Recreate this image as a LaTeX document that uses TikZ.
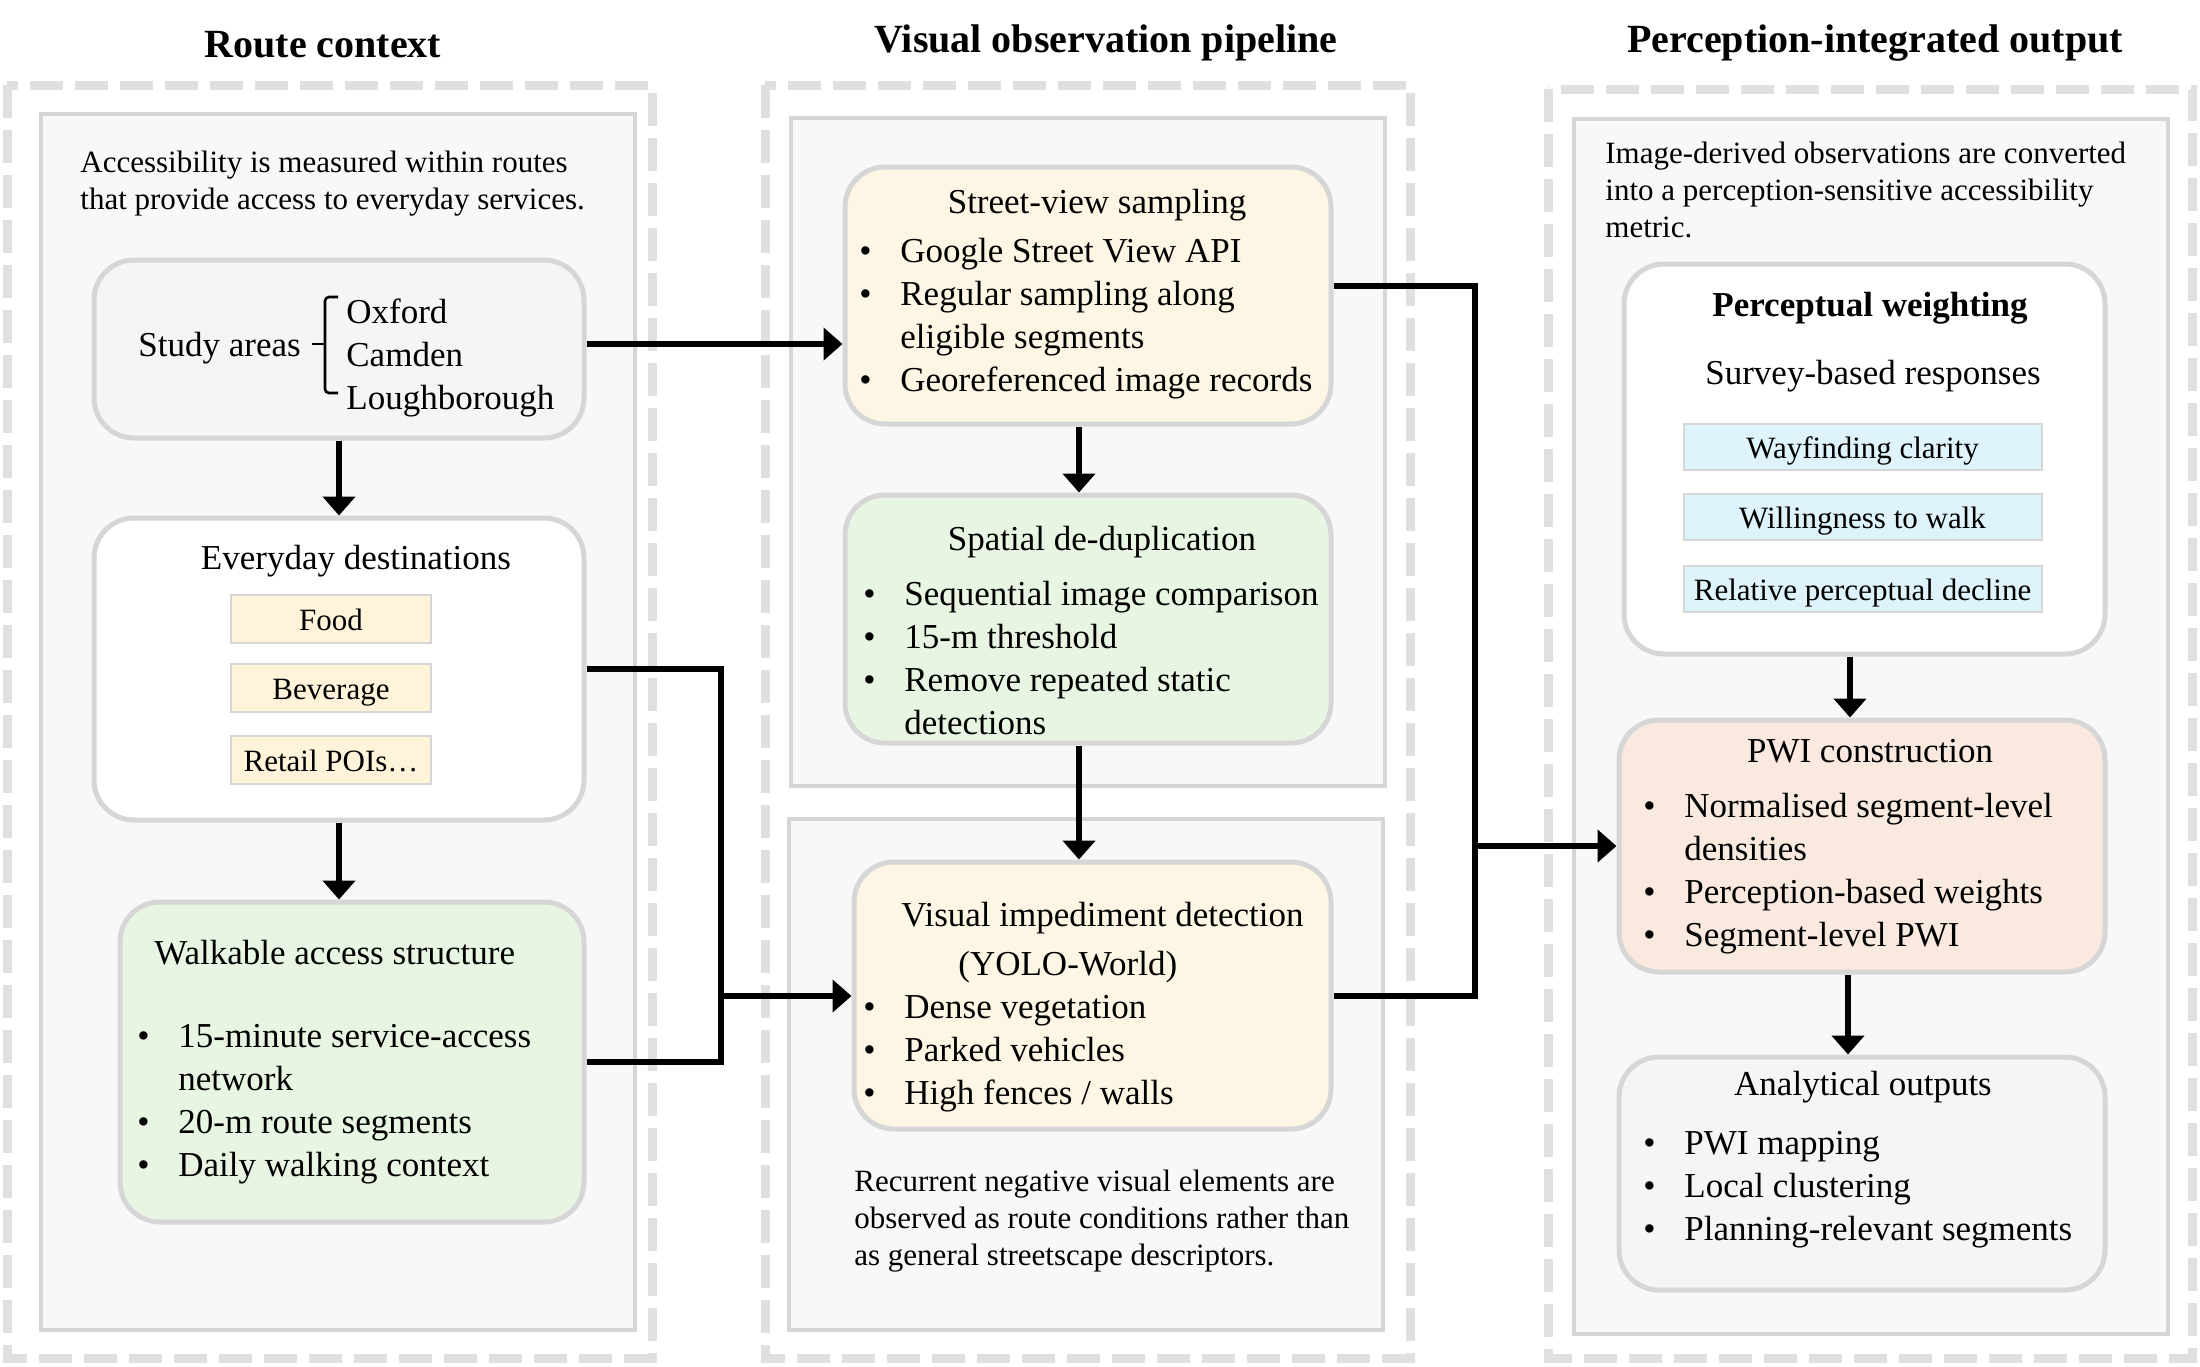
\documentclass[tikz,border=0pt]{standalone}
\usepackage{fontspec}
\setmainfont{Liberation Serif}
\usetikzlibrary{arrows.meta}
\definecolor{randgrau}{RGB}{224,224,224}
\definecolor{boxgrau}{RGB}{214,214,214}
\definecolor{hintergrund}{RGB}{248,248,248}
\definecolor{hellgrau}{RGB}{245,245,245}
\definecolor{creme}{RGB}{254,246,228}
\definecolor{gruen}{RGB}{232,245,226}
\definecolor{pfirsich}{RGB}{249,233,223}
\definecolor{hellblau}{RGB}{222,243,251}
\definecolor{poigelb}{RGB}{255,244,218}

\newcommand\gross{\fontsize{17.5pt}{21.5pt}\selectfont}
\newcommand\klein{\fontsize{15.5pt}{18.5pt}\selectfont}
\newcommand\bul{\makebox[20.5pt][l]{\textbullet}}
\newcommand\ein{\hspace*{20.5pt}}

\begin{document}
\begin{tikzpicture}[x=0.5pt,y=-0.5pt,>={Triangle[width=16pt,length=9.5pt]},
  aussen/.style={draw=randgrau, line width=4.5pt, dash pattern=on 16.5pt off 6pt},
  innen/.style={draw=boxgrau, fill=hintergrund, line width=2pt},
  kasten/.style={draw=boxgrau, line width=2.5pt, rounded corners=20pt, inner sep=0pt},
  etikett/.style={draw=boxgrau, line width=1pt, inner sep=0pt, font=\klein, text height=14pt, text depth=2.5pt},
  txt/.style={inner sep=0pt, font=\gross, text height=12.5pt, text depth=4pt, yshift=-2pt},
  liste/.style={inner sep=0pt, font=\gross, align=left, anchor=north west},
  notiz/.style={inner sep=0pt, font=\klein, align=left, anchor=north west},
  titel/.style={inner sep=0pt, font=\fontsize{20pt}{24pt}\selectfont\bfseries, text height=14pt, text depth=4.5pt, yshift=-2pt},
  pfeil/.style={->, line width=3pt},
  linie/.style={line width=3pt}]

\fill[white] (0,0) rectangle (2200,1366);
\useasboundingbox (0,0) rectangle (2200,1366);

%Rahmen
\draw[aussen] (7,85) rectangle (652,1358);
\draw[aussen] (765,85) rectangle (1410,1358);
\draw[aussen] (1548,89) rectangle (2192,1358);
\draw[innen] (41,114) rectangle (635,1330);
\draw[innen] (791,118) rectangle (1385,786);
\draw[innen] (789,819) rectangle (1383,1330);
\draw[innen] (1574,119) rectangle (2168,1334);

%Ueberschriften
\node[titel] (t1) at (323,44) {Route context};
\node[titel] (t2) at (1106,39) {Visual observation pipeline};
\node[titel] (t3) at (1875,39) {Perception-integrated output};

%Spalte links
\node[notiz] (n1) at (80,151) {Accessibility is measured within routes\\that provide access to everyday services.};

\node[kasten, fill=hellgrau, minimum width=245pt, minimum height=89pt] (st) at (339,349) {};
\node[txt, anchor=west] (sa) at (138,344) {Study areas};
\draw[line width=1.3pt, rounded corners=2pt] (338,297) -- (325,297) -- (325,393) -- (338,393);
\draw[line width=1.3pt] (325,344) -- (312,344);
\node[liste] (orte) at (346,298.5) {Oxford\\Camden\\Loughborough};

\node[kasten, fill=white, minimum width=245pt, minimum height=151pt] (ed) at (339,669) {};
\node[txt] (edT) at (356,557) {Everyday destinations};
\node[etikett, fill=poigelb, minimum width=100pt, minimum height=24pt] (food) at (331,619) {Food};
\node[etikett, fill=poigelb, minimum width=100pt, minimum height=24pt] (bev) at (331,687.5) {Beverage};
\node[etikett, fill=poigelb, minimum width=100pt, minimum height=24pt] (ret) at (331,759.5) {Retail POIs…};

\node[kasten, fill=gruen, minimum width=232pt, minimum height=160pt] (wa) at (352,1062) {};
\node[txt, anchor=west] (waT) at (154,952) {Walkable access structure};
\node[liste] (waL) at (137,1023.5) {\bul 15-minute service-access\\\ein network\\\bul 20-m route segments\\\bul Daily walking context};

%Spalte Mitte
\node[kasten, fill=creme, minimum width=243pt, minimum height=128.5pt] (sv) at (1088,295.5) {};
\node[txt] (svT) at (1097,201) {Street-view sampling};
\node[liste] (svL) at (859,237.5) {\bul Google Street View API\\\bul Regular sampling along\\\ein eligible segments\\\bul Georeferenced image records};

\node[kasten, fill=gruen, minimum width=243pt, minimum height=124pt] (dd) at (1088,619) {};
\node[txt] (ddT) at (1102,538) {Spatial de-duplication};
\node[liste] (ddL) at (863,580.5) {\bul Sequential image comparison\\\bul 15-m threshold\\\bul Remove repeated static\\\ein detections};

\node[kasten, fill=creme, minimum width=238.5pt, minimum height=133.5pt] (im) at (1092.5,995.5) {};
\node[liste, font=\fontsize{17.5pt}{24.5pt}\selectfont] (imT) at (901,902) {Visual impediment detection\\\hspace*{28.5pt}(YOLO-World)};
\node[liste] (imL) at (863,994.5) {\bul Dense vegetation\\\bul Parked vehicles\\\bul High fences / walls};
\node[notiz] (n2) at (854,1170) {Recurrent negative visual elements are\\observed as route conditions rather than\\as general streetscape descriptors.};

%Spalte rechts
\node[notiz] (n3) at (1605,142) {Image-derived observations are converted\\into a perception-sensitive accessibility\\metric.};

\node[kasten, fill=white, minimum width=240.5pt, minimum height=195pt] (pw) at (1864.5,459) {};
\node[txt, font=\gross\bfseries] (pwT) at (1870,304) {Perceptual weighting};
\node[txt] (pwS) at (1873,372) {Survey-based responses};
\node[etikett, fill=hellblau, minimum width=179pt, minimum height=23pt] (way) at (1862.5,447) {Wayfinding clarity};
\node[etikett, fill=hellblau, minimum width=179pt, minimum height=23pt] (will) at (1862.5,517) {Willingness to walk};
\node[etikett, fill=hellblau, minimum width=179pt, minimum height=23pt] (rel) at (1862.5,589) {Relative perceptual decline};

\node[kasten, fill=pfirsich, minimum width=243pt, minimum height=126pt] (pwi) at (1862,846) {};
\node[txt] (pwiT) at (1870,750) {PWI construction};
\node[liste] (pwiL) at (1643,792.5) {\bul Normalised segment-level\\\ein densities\\\bul Perception-based weights\\\bul Segment-level PWI};

\node[kasten, fill=hellgrau, minimum width=243pt, minimum height=116.5pt] (an) at (1862,1173.5) {};
\node[txt] (anT) at (1863,1083) {Analytical outputs};
\node[liste] (anL) at (1643,1130.5) {\bul PWI mapping\\\bul Local clustering\\\bul Planning-relevant segments};

%Pfeile
\coordinate (stA) at ([yshift=2.5pt]st.east);
\draw[pfeil] (stA) -- (stA -| sv.west);
\draw[pfeil] (st.south) -- (ed.north);
\draw[pfeil] (ed.south) -- (ed.south |- wa.north);

\coordinate (jL) at (721,996);
\draw[linie] (ed.east) -| (jL);
\draw[linie] (wa.east) -| (jL);
\draw[pfeil] (jL) -- (jL -| im.west);

\draw[pfeil] ([xshift=-4.5pt]sv.south) -- ([xshift=-4.5pt]dd.north);
\draw[pfeil] ([xshift=-4.5pt]dd.south) -- ([xshift=-6.75pt]im.north);

\coordinate (jR) at (1475,846);
\draw[linie] ([yshift=5pt]sv.east) -| (jR);
\draw[linie] (im.east) -| (jR);
\draw[pfeil] (jR) -- (pwi.west);

\draw[pfeil] ([xshift=-7.25pt]pw.south) -- ([xshift=-6pt]pwi.north);
\draw[pfeil] ([xshift=-7pt]pwi.south) -- ([xshift=-7pt]an.north);

\end{tikzpicture}
\end{document}
